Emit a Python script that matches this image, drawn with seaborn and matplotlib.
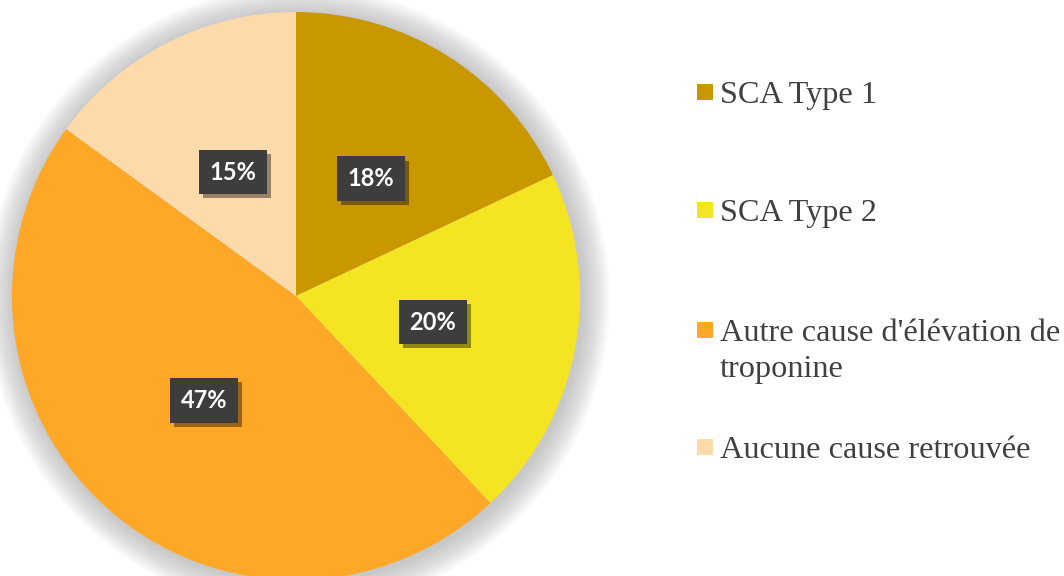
import matplotlib
matplotlib.use("Agg")
import matplotlib.pyplot as plt
import matplotlib.patheffects as pe
from matplotlib.patches import Circle, Rectangle
import seaborn as sns

categories = ["SCA Type 1", "SCA Type 2", "Autre cause d'élévation de\ntroponine", "Aucune cause retrouvée"]
values = [18, 20, 47, 15]
colors = ["#C99700", "#F5E421", "#FFA726", "#FDDAA9"]

sns.set_theme(style="white")
plt.rcParams["font.family"] = ["DejaVu Sans"]

W, H = 1064, 576
fig = plt.figure(figsize=(W / 100, H / 100), dpi=100)
cx, cy, R = 296, 296, 284
ax = fig.add_axes([(cx - R) / W, (H - cy - R) / H, 2 * R / W, 2 * R / H])

# soft shadow glow
for k in range(22, 0, -1):
    ax.add_patch(Circle((0.008, -0.008), 1 + k * 0.0045, color="#8a8a8a", alpha=0.022, lw=0, zorder=0, clip_on=False))

wedges, texts, autotexts = ax.pie(
    values, colors=colors, startangle=90, counterclock=False, radius=1,
    autopct=lambda p: f"{p:.0f}%", pctdistance=0.49,
    wedgeprops=dict(linewidth=0),
    textprops=dict(color="white", fontsize=17, fontweight="bold", family="Lato"),
)
for w in wedges:
    w.set_zorder(2)
for t in autotexts:
    t.set_zorder(5)
    t.set_bbox(dict(boxstyle="square,pad=0.45", fc="#3d3d3d", ec="none"))
    t.get_bbox_patch().set_path_effects([pe.SimplePatchShadow(offset=(3, -3), shadow_rgbFace="#000000", alpha=0.4), pe.Normal()])
ax.set_xlim(-1, 1)
ax.set_ylim(-1, 1)
ax.set_aspect("equal")
ax.axis("off")

# legend (manual, Excel-like)
leg_y = [92, 210, 330, 447]
line_gap = 36
for lab, col, y in zip(categories, colors, leg_y):
    fig.patches.append(Rectangle((697 / W, (H - y - 8) / H), 16 / W, 16 / H,
                                 transform=fig.transFigure, fc=col, ec="none"))
    for i, line in enumerate(lab.split("\n")):
        fig.text(720 / W, (H - y - i * line_gap) / H, line, fontsize=23.2,
                 family="Liberation Serif", color="#404040",
                 va="center_baseline", ha="left")

fig.savefig("out.png", dpi=100)
